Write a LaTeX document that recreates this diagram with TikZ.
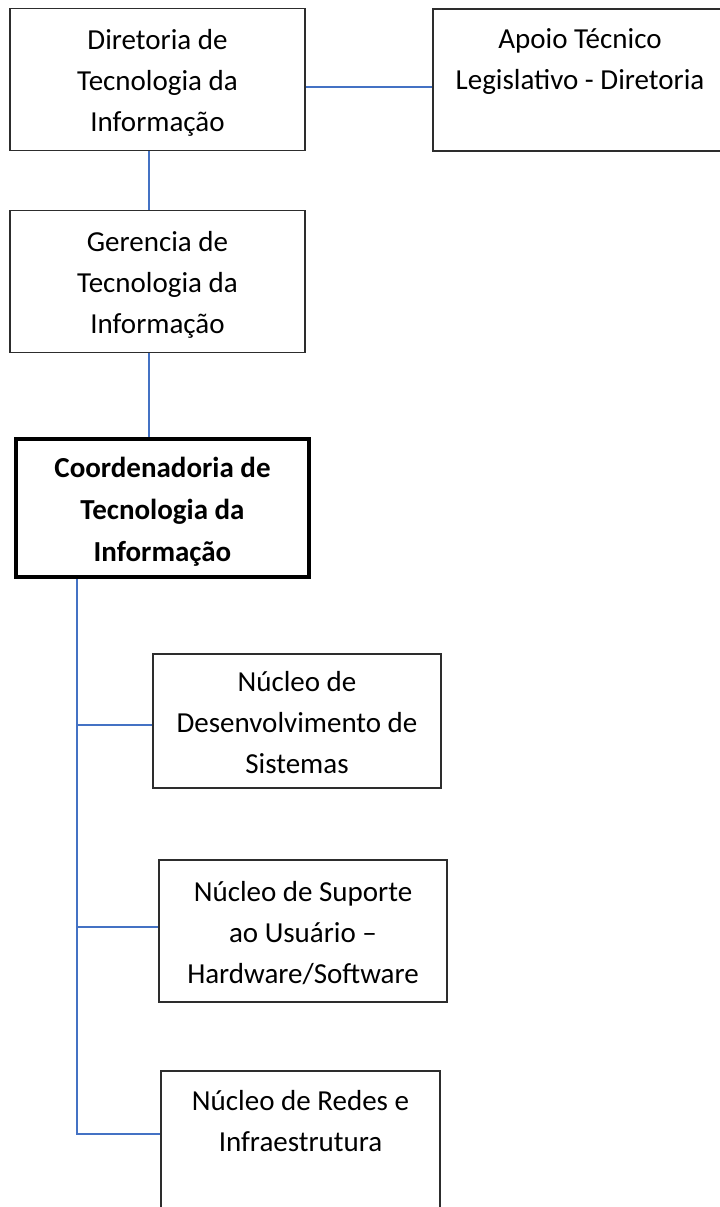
\documentclass[tikz,border=0pt]{standalone}
\usepackage{fontspec}
\setmainfont{Carlito}
\definecolor{conn}{RGB}{68,114,196}
\definecolor{boxline}{RGB}{45,45,45}
\newcommand\hiLine{\rule{0pt}{30bp}}
\newcommand\loLine{\rule[-8bp]{0pt}{8bp}}
\begin{document}
\begin{tikzpicture}[x=1bp,y=-1bp,
  box/.style={draw=boxline, line width=1.3bp, rectangle, align=center, inner sep=0pt,
    font=\fontsize{29bp}{41bp}\selectfont},
  mainbox/.style={box, draw=black, line width=4.5bp, font=\fontsize{29bp}{42bp}\selectfont\bfseries},
  link/.style={draw=conn, line width=1.5bp}]
\clip (0,0) rectangle (720,1207);
\fill[white] (0,0) rectangle (720,1207);
% boxes
\node[box, minimum width=295bp, minimum height=142bp] (dir) at (157.5,79.5) {\hiLine Diretoria de\\Tecnologia da\\Informação\loLine};
\node[box, minimum width=294bp, minimum height=142bp] (apoio) at (580,80) {Apoio Técnico\\Legislativo - Diretoria\\\mbox{}};
\node[box, minimum width=295bp, minimum height=142bp] (ger) at (157.5,281.5) {\hiLine Gerencia de\\Tecnologia da\\Informação\loLine};
\node[mainbox, minimum width=293bp, minimum height=138bp] (coord) at (162.5,508) {\hiLine Coordenadoria de\\Tecnologia da\\Informação\loLine};
\node[box, minimum width=288bp, minimum height=134bp] (des) at (297,721) {\hiLine Núcleo de\\Desenvolvimento de\\Sistemas\loLine};
\node[box, minimum width=288bp, minimum height=142bp] (sup) at (303,931) {\hiLine Núcleo de Suporte\\ao Usuário --\\Hardware/Software\loLine};
\node[box, minimum width=279bp, minimum height=140bp] (red) at (300.5,1141) {Núcleo de Redes e\\Infraestrutura\\\mbox{}};
% connector anchors
\coordinate (dirx) at (149,0);
\coordinate (dirlink) at (0,87);
\coordinate (trunk) at (77,0);
\coordinate (desy) at (0,725);
\coordinate (supy) at (0,927);
\coordinate (redy) at (0,1134);
% connectors
\draw[link] (dir.south -| dirx) -- (ger.north -| dirx);
\draw[link] (ger.south -| dirx) -- (coord.north -| dirx);
\draw[link] (dir.east |- dirlink) -- (apoio.west |- dirlink);
\draw[link] (coord.south -| trunk) -- (trunk |- redy) -- (red.west |- redy);
\draw[link] (trunk |- desy) -- (des.west |- desy);
\draw[link] (trunk |- supy) -- (sup.west |- supy);
\end{tikzpicture}
\end{document}
